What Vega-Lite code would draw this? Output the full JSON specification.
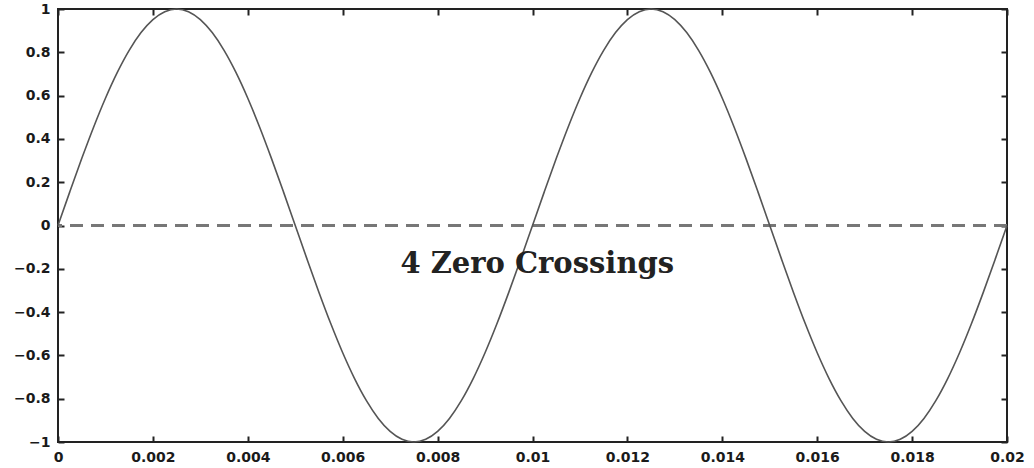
{
  "$schema": "https://vega.github.io/schema/vega-lite/v6.json",
  "width": 949,
  "height": 433,
  "autosize": {"type": "none"},
  "padding": {"left": 58, "top": 9, "right": 27, "bottom": 26},
  "background": "white",
  "config": {
    "view": {"stroke": "#222", "strokeWidth": 2},
    "axis": {
      "grid": false,
      "domain": false,
      "tickColor": "#222",
      "tickWidth": 2,
      "tickSize": -6,
      "labelFont": "DejaVu Sans",
      "labelFontWeight": "bold",
      "labelFontSize": 14,
      "labelColor": "#1a1a1a",
      "title": null
    }
  },
  "datasets": {
    "wave": [
      {"t": 0, "v": 0}, {"t": 0.00025, "v": 0.1564}, {"t": 0.0005, "v": 0.309}, {"t": 0.00075, "v": 0.454},
      {"t": 0.001, "v": 0.5878}, {"t": 0.00125, "v": 0.7071}, {"t": 0.0015, "v": 0.809}, {"t": 0.00175, "v": 0.891},
      {"t": 0.002, "v": 0.9511}, {"t": 0.00225, "v": 0.9877}, {"t": 0.0025, "v": 1}, {"t": 0.00275, "v": 0.9877},
      {"t": 0.003, "v": 0.9511}, {"t": 0.00325, "v": 0.891}, {"t": 0.0035, "v": 0.809}, {"t": 0.00375, "v": 0.7071},
      {"t": 0.004, "v": 0.5878}, {"t": 0.00425, "v": 0.454}, {"t": 0.0045, "v": 0.309}, {"t": 0.00475, "v": 0.1564},
      {"t": 0.005, "v": 0}, {"t": 0.00525, "v": -0.1564}, {"t": 0.0055, "v": -0.309}, {"t": 0.00575, "v": -0.454},
      {"t": 0.006, "v": -0.5878}, {"t": 0.00625, "v": -0.7071}, {"t": 0.0065, "v": -0.809}, {"t": 0.00675, "v": -0.891},
      {"t": 0.007, "v": -0.9511}, {"t": 0.00725, "v": -0.9877}, {"t": 0.0075, "v": -1}, {"t": 0.00775, "v": -0.9877},
      {"t": 0.008, "v": -0.9511}, {"t": 0.00825, "v": -0.891}, {"t": 0.0085, "v": -0.809}, {"t": 0.00875, "v": -0.7071},
      {"t": 0.009, "v": -0.5878}, {"t": 0.00925, "v": -0.454}, {"t": 0.0095, "v": -0.309}, {"t": 0.00975, "v": -0.1564},
      {"t": 0.01, "v": 0}, {"t": 0.01025, "v": 0.1564}, {"t": 0.0105, "v": 0.309}, {"t": 0.01075, "v": 0.454},
      {"t": 0.011, "v": 0.5878}, {"t": 0.01125, "v": 0.7071}, {"t": 0.0115, "v": 0.809}, {"t": 0.01175, "v": 0.891},
      {"t": 0.012, "v": 0.9511}, {"t": 0.01225, "v": 0.9877}, {"t": 0.0125, "v": 1}, {"t": 0.01275, "v": 0.9877},
      {"t": 0.013, "v": 0.9511}, {"t": 0.01325, "v": 0.891}, {"t": 0.0135, "v": 0.809}, {"t": 0.01375, "v": 0.7071},
      {"t": 0.014, "v": 0.5878}, {"t": 0.01425, "v": 0.454}, {"t": 0.0145, "v": 0.309}, {"t": 0.01475, "v": 0.1564},
      {"t": 0.015, "v": 0}, {"t": 0.01525, "v": -0.1564}, {"t": 0.0155, "v": -0.309}, {"t": 0.01575, "v": -0.454},
      {"t": 0.016, "v": -0.5878}, {"t": 0.01625, "v": -0.7071}, {"t": 0.0165, "v": -0.809}, {"t": 0.01675, "v": -0.891},
      {"t": 0.017, "v": -0.9511}, {"t": 0.01725, "v": -0.9877}, {"t": 0.0175, "v": -1}, {"t": 0.01775, "v": -0.9877},
      {"t": 0.018, "v": -0.9511}, {"t": 0.01825, "v": -0.891}, {"t": 0.0185, "v": -0.809}, {"t": 0.01875, "v": -0.7071},
      {"t": 0.019, "v": -0.5878}, {"t": 0.01925, "v": -0.454}, {"t": 0.0195, "v": -0.309}, {"t": 0.01975, "v": -0.1564},
      {"t": 0.02, "v": 0}
    ],
    "zero": [{"v": 0}],
    "note": [{"t": 0.0101, "v": -0.18, "label": "4 Zero Crossings"}]
  },
  "layer": [
    {
      "data": {"name": "zero"},
      "mark": {"type": "rule", "color": "#777", "strokeWidth": 3, "strokeDash": [13, 8]},
      "encoding": {
        "y": {"field": "v", "type": "quantitative", "axis": null}
      }
    },
    {
      "data": {"name": "wave"},
      "mark": {"type": "line", "color": "#555", "strokeWidth": 1.6, "interpolate": "monotone"},
      "encoding": {
        "x": {
          "field": "t", "type": "quantitative",
          "scale": {"domain": [0, 0.02], "nice": false, "zero": false},
          "axis": {"orient": "bottom", "values": [0, 0.002, 0.004, 0.006, 0.008, 0.01, 0.012, 0.014, 0.016, 0.018, 0.02], "format": "~g", "labelPadding": 14, "labelFlush": false, "labelOverlap": false}
        },
        "y": {
          "field": "v", "type": "quantitative",
          "scale": {"domain": [-1, 1], "nice": false, "zero": false},
          "axis": {"orient": "left", "values": [-1, -0.8, -0.6, -0.4, -0.2, 0, 0.2, 0.4, 0.6, 0.8, 1], "format": "~g", "labelPadding": 14, "labelFlush": false, "labelOverlap": false}
        }
      }
    },
    {
      "data": {"name": "note"},
      "mark": {"type": "text", "font": "DejaVu Serif", "fontWeight": "bold", "fontSize": 29, "color": "#222", "align": "center", "baseline": "middle"},
      "encoding": {
        "x": {
          "field": "t", "type": "quantitative",
          "axis": {"orient": "top", "values": [0, 0.002, 0.004, 0.006, 0.008, 0.01, 0.012, 0.014, 0.016, 0.018, 0.02], "labels": false}
        },
        "y": {
          "field": "v", "type": "quantitative",
          "axis": {"orient": "right", "values": [-1, -0.8, -0.6, -0.4, -0.2, 0, 0.2, 0.4, 0.6, 0.8, 1], "labels": false}
        },
        "text": {"field": "label", "type": "nominal"}
      }
    }
  ]
}
